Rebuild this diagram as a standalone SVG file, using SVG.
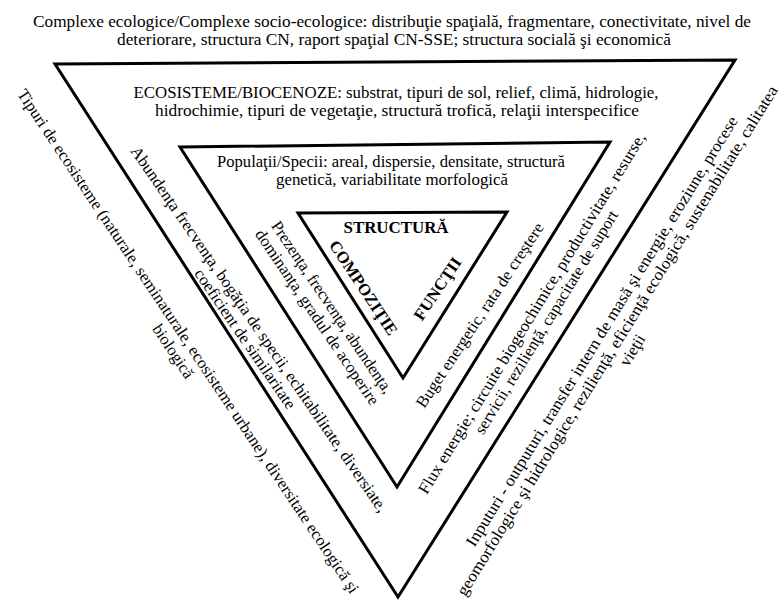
<svg xmlns="http://www.w3.org/2000/svg" width="784" height="605" viewBox="0 0 784 605">
  <style>
    .frame { fill: none; stroke: #000; stroke-width: 3; stroke-linejoin: miter; stroke-miterlimit: 10; }
    .t { font-family: 'Liberation Serif', 'Times New Roman', Tinos, 'DejaVu Serif', serif; font-size: 16.5px; fill: #000; text-anchor: middle; }
    .b { font-weight: bold; }
  </style>
  <rect width="784" height="605" fill="#fff"/>

  <g font-family="Liberation Serif, Times New Roman, serif">
  <!-- Level 1: ecological / socio-ecological complexes -->
  <g id="complexe">
    <text class="t" x="392" y="27" textLength="718" lengthAdjust="spacingAndGlyphs">Complexe ecologice/Complexe socio-ecologice: distribuţie spaţială, fragmentare, conectivitate, nivel de</text>
    <text class="t" x="394" y="45" textLength="554" lengthAdjust="spacingAndGlyphs">deteriorare, structura CN, raport spaţial CN-SSE; structura socială şi economică</text>
    <polygon id="frame-outer" class="frame" points="55,64 735,60 398,597"/>
    <g transform="translate(187,342) rotate(56.3)">
      <text class="t" x="0" y="4" textLength="602" lengthAdjust="spacingAndGlyphs">Tipuri de ecosisteme (naturale, seminaturale, ecosisteme urbane), diversitate ecologică şi</text>
      <text class="t" x="0" y="22">biologică</text>
    </g>
    <g transform="translate(603,332) rotate(-58.3)">
      <text class="t" x="0" y="4" textLength="502" lengthAdjust="spacingAndGlyphs">Inputuri - outputuri, transfer intern de masă şi energie, eroziune, procese</text>
      <text class="t" x="0" y="22" textLength="596" lengthAdjust="spacingAndGlyphs">geomorfologice şi hidrologice, rezilienţă, eficienţă ecologică, sustenabilitate, calitatea</text>
      <text class="t" x="0" y="40">vieţii</text>
    </g>
  </g>

  <!-- Level 2: ecosystems / biocenoses -->
  <g id="ecosisteme">
    <text class="t" x="396" y="98" textLength="525" lengthAdjust="spacingAndGlyphs">ECOSISTEME/BIOCENOZE: substrat, tipuri de sol, relief, climă, hidrologie,</text>
    <text class="t" x="397" y="116" textLength="484" lengthAdjust="spacingAndGlyphs">hidrochimie, tipuri de vegetaţie, structură trofică, relaţii interspecifice</text>
    <polygon id="frame-middle" class="frame" points="180,147 610,142 397,487"/>
    <g transform="translate(258,330) rotate(55.5)">
      <text class="t" x="0" y="4" textLength="440" lengthAdjust="spacingAndGlyphs">Abundenţa frecvenţa, bogăţia de specii, echitabilitate, diversiate,</text>
      <text class="t" x="0" y="21" textLength="166" lengthAdjust="spacingAndGlyphs">coeficient de similaritate</text>
    </g>
    <g transform="translate(533,314) rotate(-58.5)">
      <text class="t" x="0" y="4" textLength="420" lengthAdjust="spacingAndGlyphs">Flux energie; circuite biogeochimice, productivitate, resurse,</text>
      <text class="t" x="0" y="21" textLength="259" lengthAdjust="spacingAndGlyphs">servicii, rezilienţă, capacitate de suport</text>
    </g>
  </g>

  <!-- Level 3: populations / species -->
  <g id="populatii">
    <text class="t" x="391" y="167" textLength="348" lengthAdjust="spacingAndGlyphs">Populaţii/Specii: areal, dispersie, densitate, structură</text>
    <text class="t" x="392" y="185" textLength="232" lengthAdjust="spacingAndGlyphs">genetică,  variabilitate morfologică</text>
    <polygon id="frame-inner" class="frame" points="298,213 507,212 403,378"/>
    <g transform="translate(331,308) rotate(56)">
      <text class="t" x="0" y="4" textLength="204" lengthAdjust="spacingAndGlyphs">Prezenţa, frecvenţa, abundenţa,</text>
      <text class="t" x="0" y="22" textLength="208" lengthAdjust="spacingAndGlyphs">dominanţa, gradul de acoperire</text>
    </g>
    <g transform="translate(481,316) rotate(-56.5)">
      <text class="t" x="0" y="4" textLength="218" lengthAdjust="spacingAndGlyphs">Buget energetic, rata de creştere</text>
    </g>
  </g>

  <!-- Core: structure, composition, functions -->
  <g id="nucleu">
    <text class="t b" x="396" y="233" textLength="105" lengthAdjust="spacingAndGlyphs">STRUCTURĂ</text>
    <text class="t b" transform="translate(363,288) rotate(56.5)" x="0" y="5" textLength="110" lengthAdjust="spacingAndGlyphs">COMPOZIŢIE</text>
    <text class="t b" transform="translate(438,289) rotate(-56)" x="0" y="5" textLength="72" lengthAdjust="spacingAndGlyphs">FUNCŢII</text>
  </g>
  </g>
</svg>
